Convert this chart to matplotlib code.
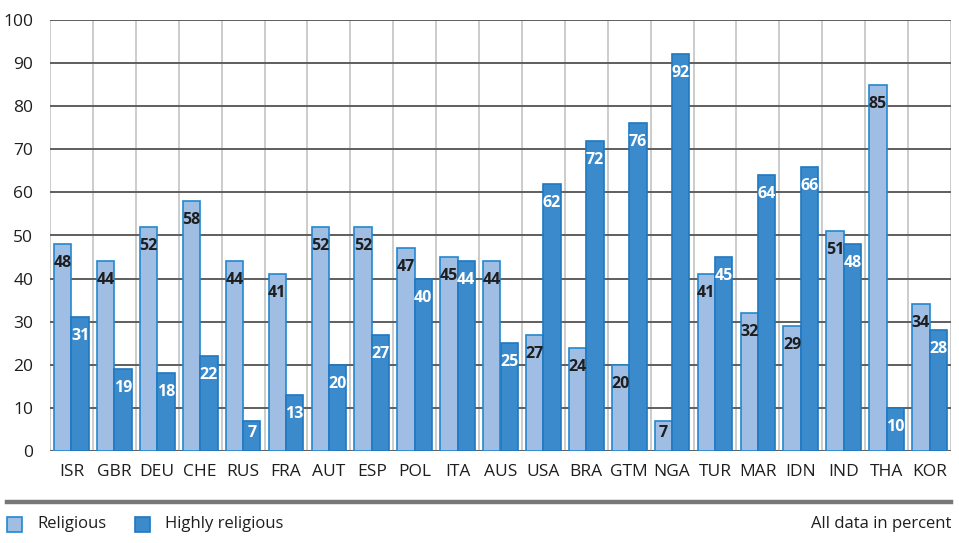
import numpy as np
import matplotlib
matplotlib.use('Agg')
import matplotlib.pyplot as plt
from matplotlib.patches import Rectangle
from matplotlib.lines import Line2D

countries = ['ISR', 'GBR', 'DEU', 'CHE', 'RUS', 'FRA', 'AUT', 'ESP', 'POL', 'ITA', 'AUS',
             'USA', 'BRA', 'GTM', 'NGA', 'TUR', 'MAR', 'IDN', 'IND', 'THA', 'KOR']
religious = [48, 44, 52, 58, 44, 41, 52, 52, 47, 45, 44, 27, 24, 20, 7, 41, 32, 29, 51, 85, 34]
highly_religious = [31, 19, 18, 22, 7, 13, 20, 27, 40, 44, 25, 62, 72, 76, 92, 45, 64, 66, 48, 10, 28]
y_ticks = [0, 10, 20, 30, 40, 50, 60, 70, 80, 90, 100]

light_fill = '#a0bde3'
light_edge = '#2288d0'
dark_fill = '#3b8bcc'
dark_edge = '#1f78c1'
text_col = '#1e1e1e'

plt.rcParams['font.family'] = ['Open Sans', 'DejaVu Sans']

fig = plt.figure(figsize=(9.59, 5.43), dpi=100)
ax = fig.add_axes([50 / 959, 1 - 451 / 543, 901 / 959, 431 / 543])

n = len(countries)
x = np.arange(n) + 0.5
w = 0.405

ax.bar(x - w / 2, religious, w, color=light_fill, edgecolor=light_edge, linewidth=1.2, zorder=3)
ax.bar(x + w / 2, highly_religious, w, color=dark_fill, edgecolor=dark_edge, linewidth=1.2, zorder=3)

# value labels sit just inside the top of each bar
for i in range(n):
    for v, dx, col in ((religious[i], -w / 2, text_col), (highly_religious[i], w / 2, 'white')):
        y = max(v - 4.4, 4.2)
        ax.text(x[i] + dx, y, str(v), ha='center', va='center', fontsize=11.5,
                fontweight='bold', color=col, zorder=4)

ax.set_xlim(0, n)
ax.set_ylim(0, 100)
ax.set_yticks(y_ticks)
ax.set_xticks(x)
ax.set_xticklabels(countries)
ax.tick_params(axis='both', length=0, labelsize=12.5, colors=text_col)
ax.tick_params(axis='x', pad=9)
ax.tick_params(axis='y', pad=12)

for s in ax.spines.values():
    s.set_visible(False)

# light vertical dividers between countries, dark horizontal grid lines
for k in range(n + 1):
    ax.axvline(k, color='#cccccc', linewidth=1.4, zorder=1)
for t in y_ticks:
    ax.axhline(t, color='#5e5e5e', linewidth=1.4, zorder=2)

# rule and legend below the chart
fig.add_artist(Line2D([7 / 959, 951 / 959], [1 - 502 / 543] * 2, color='#777777', linewidth=3.2))
fig.add_artist(Rectangle((7 / 959, 1 - 532 / 543), 15 / 959, 15 / 543,
                         facecolor=light_fill, edgecolor=light_edge, linewidth=1.2))
fig.text(37 / 959, 1 - 524 / 543, 'Religious', ha='left', va='center', fontsize=12, color=text_col)
fig.add_artist(Rectangle((135 / 959, 1 - 532 / 543), 15 / 959, 15 / 543,
                         facecolor=dark_fill, edgecolor=dark_edge, linewidth=1.2))
fig.text(165 / 959, 1 - 524 / 543, 'Highly religious', ha='left', va='center', fontsize=12, color=text_col)
fig.text(951 / 959, 1 - 524 / 543, 'All data in percent', ha='right', va='center', fontsize=12, color=text_col)

fig.savefig('out.png', dpi=100)
